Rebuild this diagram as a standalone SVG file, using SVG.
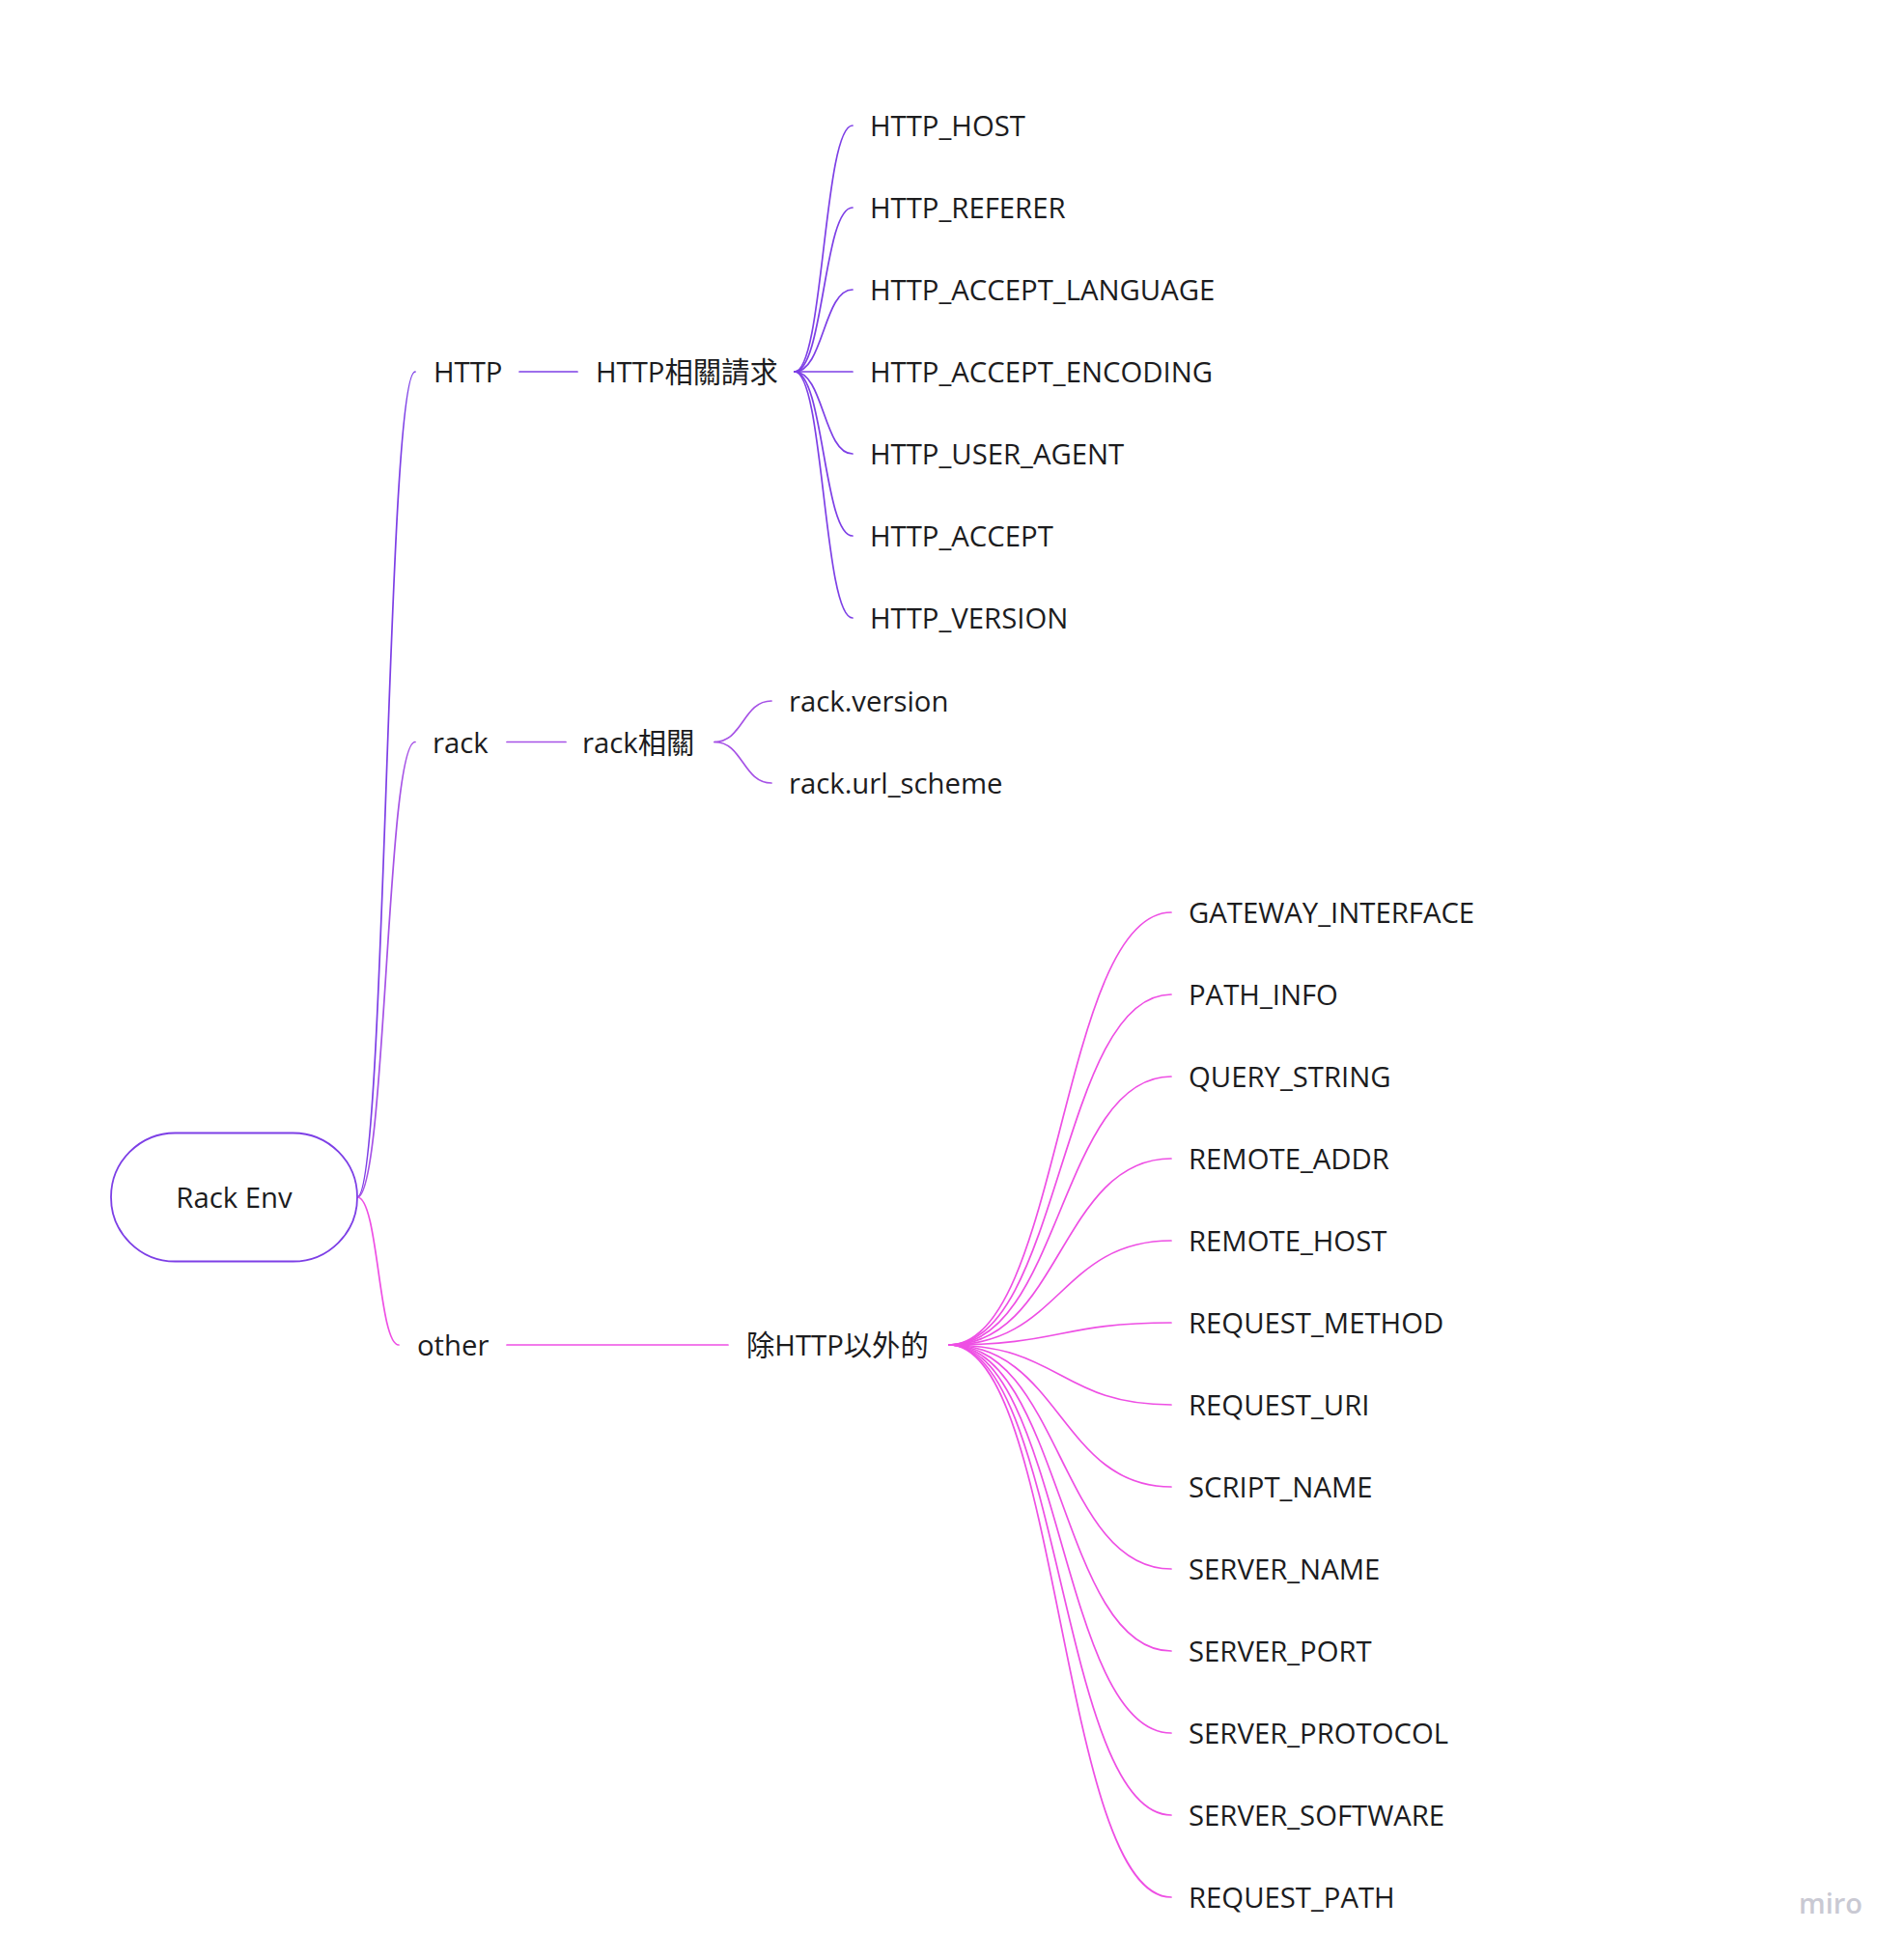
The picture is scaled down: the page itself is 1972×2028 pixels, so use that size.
<svg xmlns="http://www.w3.org/2000/svg" width="1972" height="2028" viewBox="0 0 1972 2028">
<style>
text{font-family:"Open Sans","Noto Sans CJK TC","Noto Sans CJK SC",sans-serif;font-size:29.3px;fill:#1c1c1e}
.c{fill:none;stroke-width:1.7;stroke-linecap:round}
.h{stroke:#7d3fe6}
.r{stroke:#a652e6}
.o{stroke:#ee4fe4}
.miro{font-size:29px;font-weight:600;fill:#c9c9d3}
</style>
<rect width="1972" height="2028" fill="#ffffff"/>
<g id="connectors">
<path class="c h" d="M370,1240 C400,1240 400,385 430,385"/>
<path class="c r" d="M370,1240 C400,1240 400,768.5 430,768.5"/>
<path class="c o" d="M370,1240 C392,1240 392,1393 413,1393"/>
<path class="c h" d="M538,385 H598"/>
<path class="c r" d="M525,768.5 H586"/>
<path class="c o" d="M525,1393 H754"/>
<path class="c h" d="M823,385 C853,385 853,130 883,130"/>
<path class="c h" d="M823,385 C853,385 853,215 883,215"/>
<path class="c h" d="M823,385 C853,385 853,300 883,300"/>
<path class="c h" d="M823,385 H883"/>
<path class="c h" d="M823,385 C853,385 853,470 883,470"/>
<path class="c h" d="M823,385 C853,385 853,555 883,555"/>
<path class="c h" d="M823,385 C853,385 853,640 883,640"/>
<path class="c r" d="M740,768.5 C769.5,768.5 769.5,726 799,726"/>
<path class="c r" d="M740,768.5 C769.5,768.5 769.5,811 799,811"/>
<path class="c o" d="M983,1393 C1098,1393 1098,945 1213,945"/>
<path class="c o" d="M983,1393 C1098,1393 1098,1030 1213,1030"/>
<path class="c o" d="M983,1393 C1098,1393 1098,1115 1213,1115"/>
<path class="c o" d="M983,1393 C1098,1393 1098,1200 1213,1200"/>
<path class="c o" d="M983,1393 C1098,1393 1098,1285 1213,1285"/>
<path class="c o" d="M983,1393 C1098,1393 1098,1370 1213,1370"/>
<path class="c o" d="M983,1393 C1098,1393 1098,1455 1213,1455"/>
<path class="c o" d="M983,1393 C1098,1393 1098,1540 1213,1540"/>
<path class="c o" d="M983,1393 C1098,1393 1098,1625 1213,1625"/>
<path class="c o" d="M983,1393 C1098,1393 1098,1710 1213,1710"/>
<path class="c o" d="M983,1393 C1098,1393 1098,1795 1213,1795"/>
<path class="c o" d="M983,1393 C1098,1393 1098,1880 1213,1880"/>
<path class="c o" d="M983,1393 C1098,1393 1098,1965 1213,1965"/>
</g>
<g id="root">
<rect x="115" y="1173.5" width="255" height="133" rx="66.5" fill="#ffffff" stroke="#7d3fe6" stroke-width="1.8"/>
<text x="242.5" y="1251" text-anchor="middle">Rack Env</text>
</g>
<g id="http"><text x="449" y="396">HTTP</text></g>
<g id="http-group"><text x="617" y="396">HTTP相關請求</text></g>
<g id="http-host"><text x="901" y="141">HTTP_HOST</text></g>
<g id="http-referer"><text x="901" y="226">HTTP_REFERER</text></g>
<g id="http-accept-language"><text x="901" y="311">HTTP_ACCEPT_LANGUAGE</text></g>
<g id="http-accept-encoding"><text x="901" y="396">HTTP_ACCEPT_ENCODING</text></g>
<g id="http-user-agent"><text x="901" y="481">HTTP_USER_AGENT</text></g>
<g id="http-accept"><text x="901" y="566">HTTP_ACCEPT</text></g>
<g id="http-version"><text x="901" y="651">HTTP_VERSION</text></g>
<g id="rack"><text x="448" y="779.5">rack</text></g>
<g id="rack-group"><text x="603" y="779.5">rack相關</text></g>
<g id="rack-version"><text x="817" y="737">rack.version</text></g>
<g id="rack-url-scheme"><text x="817" y="822">rack.url_scheme</text></g>
<g id="other"><text x="432" y="1404">other</text></g>
<g id="other-group"><text x="773" y="1404">除HTTP以外的</text></g>
<g id="gateway-interface"><text x="1231" y="956">GATEWAY_INTERFACE</text></g>
<g id="path-info"><text x="1231" y="1041">PATH_INFO</text></g>
<g id="query-string"><text x="1231" y="1126">QUERY_STRING</text></g>
<g id="remote-addr"><text x="1231" y="1211">REMOTE_ADDR</text></g>
<g id="remote-host"><text x="1231" y="1296">REMOTE_HOST</text></g>
<g id="request-method"><text x="1231" y="1381">REQUEST_METHOD</text></g>
<g id="request-uri"><text x="1231" y="1466">REQUEST_URI</text></g>
<g id="script-name"><text x="1231" y="1551">SCRIPT_NAME</text></g>
<g id="server-name"><text x="1231" y="1636">SERVER_NAME</text></g>
<g id="server-port"><text x="1231" y="1721">SERVER_PORT</text></g>
<g id="server-protocol"><text x="1231" y="1806">SERVER_PROTOCOL</text></g>
<g id="server-software"><text x="1231" y="1891">SERVER_SOFTWARE</text></g>
<g id="request-path"><text x="1231" y="1976">REQUEST_PATH</text></g>
<text class="miro" x="1863" y="1982">miro</text>
</svg>
